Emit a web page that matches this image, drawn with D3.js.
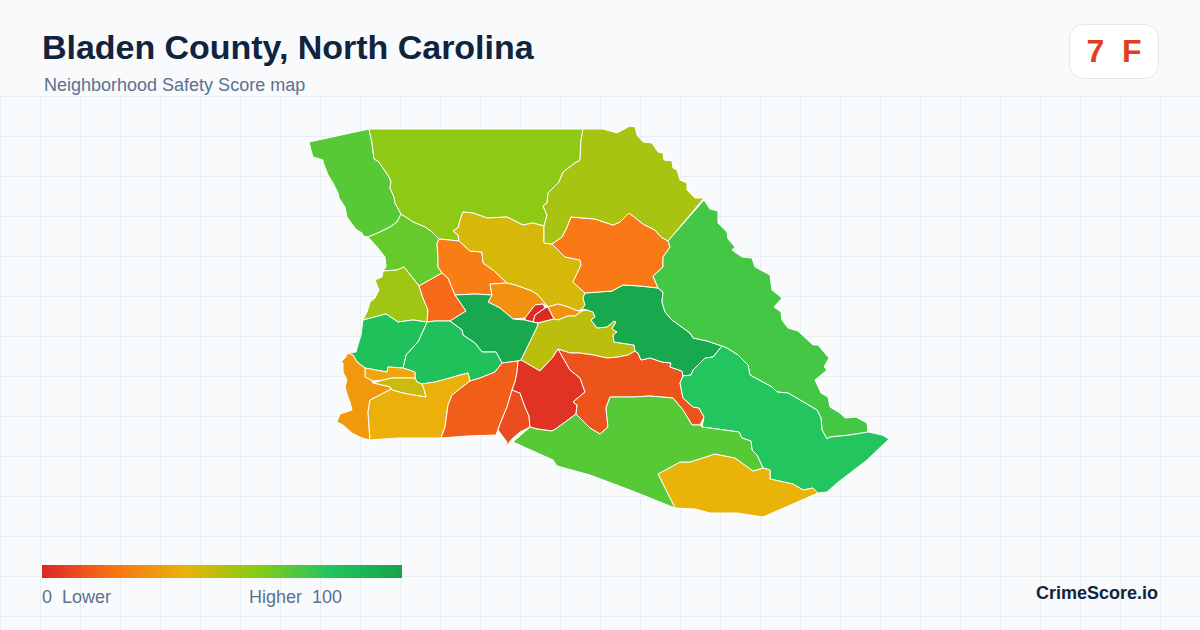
<!DOCTYPE html>
<html><head><meta charset="utf-8">
<script src="https://cdn.jsdelivr.net/npm/d3@7"></script>
<style>html,body{margin:0;padding:0;background:#f8fafc;overflow:hidden}svg{display:block}text{font-family:"Liberation Sans",Arial,sans-serif}</style>
</head><body><svg id="c" width="1200" height="630"></svg>
<script>
const title="Bladen County, North Carolina";
const subtitle="Neighborhood Safety Score map";
const badge="7  F";
const brand="CrimeScore.io";
const legendLow="0  Lower";
const legendHigh="Higher  100";
const scoreStops=[0,20,40,60,80,100];
const scoreColors=["#dc2626","#f97316","#eab308","#84cc16","#22c55e","#16a34a"];
const regionScores=[69,58,66,55,17.5,23,44,29,1,1,30,49,97,83,83,36,46,32,39,14.5,10.5,3.5,12,97,22,53,73,80,40,69];
// outlines in map units
const regionRings=[
[[309,142],[369,129],[372,143],[374,159],[378,161],[383,168],[389,177],[391,182],[390,188],[394,197],[395,203],[401,214],[397,222],[390,227],[380,232],[368,237],[363,236],[362,233],[357,230],[355,228],[347,217],[345,207],[339,198],[338,193],[333,183],[328,175],[323,162],[323,160],[313,157],[311,150]],
[[369,129],[583,129],[581,140],[580,160],[575,163],[563,172],[559,182],[548,193],[547,203],[543,206],[547,215],[544,226],[533,223],[523,225],[507,217],[487,218],[473,213],[463,212],[460,220],[458,228],[453,231],[458,235],[459,241],[439,239],[432,232],[425,227],[413,222],[401,214],[395,203],[394,197],[390,188],[391,182],[389,177],[383,168],[378,161],[374,159],[372,143]],
[[401,214],[413,222],[425,227],[432,232],[439,239],[437,244],[438,257],[438,267],[442,273],[419,286],[412,277],[404,267],[397,270],[383,271],[386,267],[385,257],[378,248],[368,237],[380,232],[390,227],[397,222]],
[[383,271],[397,270],[404,267],[412,277],[419,286],[423,298],[428,310],[427,322],[413,320],[398,322],[386,314],[363,320],[367,312],[370,302],[375,298],[379,290],[377,285],[375,280],[382,277]],
[[419,286],[442,273],[448,278],[455,295],[466,311],[450,321],[435,321],[427,322],[428,310],[423,298]],
[[439,239],[459,241],[470,251],[482,252],[483,263],[493,270],[507,283],[490,284],[492,295],[475,294],[455,295],[448,278],[442,273],[438,267],[438,257],[437,244]],
[[544,226],[544,243],[552,244],[565,257],[580,260],[581,265],[573,282],[585,293],[583,298],[585,305],[582,309],[578,311],[568,307],[558,304],[548,307],[538,295],[532,291],[515,285],[507,283],[493,270],[483,263],[482,252],[470,251],[459,241],[458,235],[453,231],[458,228],[460,220],[463,212],[473,213],[487,218],[507,217],[523,225],[533,223]],
[[507,283],[515,285],[532,291],[538,295],[548,307],[543,304],[535,305],[525,318],[513,319],[500,308],[488,302],[492,295],[490,284]],
[[525,318],[535,305],[543,304],[545,308],[535,315],[533,322],[525,320]],
[[545,308],[548,307],[554,319],[538,323],[533,322],[535,315]],
[[548,307],[558,304],[568,307],[578,311],[582,311],[575,316],[568,316],[558,320],[554,319]],
[[538,323],[554,319],[558,320],[568,316],[575,316],[582,311],[587,310],[593,312],[595,317],[591,320],[597,328],[607,327],[614,321],[616,322],[612,329],[617,332],[613,335],[614,342],[634,345],[635,351],[628,355],[618,357],[607,358],[593,355],[580,353],[570,353],[558,349],[553,357],[540,371],[521,360],[537,327]],
[[455,295],[475,294],[492,295],[488,302],[500,308],[513,319],[525,320],[533,322],[538,323],[537,327],[521,360],[518,361],[502,363],[496,352],[482,352],[475,343],[463,335],[462,330],[450,321],[466,311]],
[[427,322],[435,321],[450,321],[462,330],[463,335],[475,343],[482,352],[496,352],[502,363],[495,372],[480,378],[470,381],[468,373],[460,375],[450,378],[435,382],[422,384],[417,382],[415,378],[415,372],[403,368],[406,355],[415,345],[418,342]],
[[363,320],[386,314],[398,322],[413,320],[427,322],[418,342],[415,345],[406,355],[403,368],[388,367],[387,372],[365,368],[357,362],[353,355],[348,353],[356,352],[358,345],[361,335]],
[[365,368],[387,372],[388,367],[403,368],[415,372],[415,378],[402,378],[392,378],[383,380],[373,381],[371,380],[365,377]],
[[373,383],[383,380],[392,378],[402,378],[415,378],[417,382],[422,384],[424,389],[426,397],[413,395],[403,393],[392,390],[390,387]],
[[348,353],[353,355],[357,362],[365,368],[365,377],[371,380],[373,383],[390,387],[391,389],[380,395],[370,400],[368,412],[370,440],[362,438],[352,433],[343,425],[337,422],[340,414],[352,410],[350,402],[348,397],[345,387],[347,380],[343,372],[343,363],[341,362],[345,358]],
[[370,400],[380,395],[391,389],[392,390],[403,393],[413,395],[426,397],[424,389],[422,384],[435,382],[450,378],[460,375],[468,373],[470,381],[452,395],[448,405],[445,427],[441,438],[418,438],[398,438],[370,440],[368,412]],
[[502,363],[518,361],[517,372],[515,382],[512,390],[507,407],[500,424],[496,435],[467,436],[441,438],[445,427],[448,405],[452,395],[470,381],[480,378],[495,372]],
[[512,390],[520,393],[525,407],[529,416],[530,427],[520,432],[513,438],[505,447],[507,442],[498,430],[500,424],[507,407]],
[[521,360],[540,371],[553,357],[558,349],[570,370],[580,378],[585,392],[573,402],[577,405],[576,414],[557,428],[552,431],[537,429],[530,427],[529,416],[525,407],[520,393],[512,390],[515,382],[517,372],[518,361]],
[[558,349],[570,353],[580,353],[593,355],[607,358],[618,357],[628,355],[635,351],[638,353],[641,360],[650,358],[662,362],[671,363],[670,367],[682,371],[683,376],[680,383],[683,398],[693,407],[699,408],[704,417],[700,425],[692,425],[683,410],[673,398],[650,396],[633,397],[610,397],[606,408],[608,427],[600,434],[590,428],[576,414],[577,405],[573,402],[585,392],[580,378],[570,370]],
[[585,293],[612,291],[623,285],[640,286],[658,288],[663,292],[662,302],[665,312],[672,320],[690,333],[693,338],[707,341],[722,346],[713,357],[705,358],[693,370],[691,375],[683,376],[682,371],[670,367],[671,363],[662,362],[650,358],[641,360],[638,353],[635,351],[634,345],[614,342],[613,335],[617,332],[612,329],[616,322],[614,321],[607,327],[597,328],[591,320],[595,317],[593,312],[587,310],[582,309],[585,305],[583,298]],
[[552,244],[562,237],[567,227],[571,217],[595,219],[613,225],[620,222],[629,213],[643,224],[655,230],[661,237],[668,241],[670,247],[663,257],[663,267],[653,276],[658,288],[640,286],[623,285],[612,291],[585,293],[573,282],[581,265],[580,260],[565,257]],
[[583,129],[603,129],[617,133],[630,126],[635,127],[637,135],[643,142],[652,143],[658,152],[663,153],[664,160],[672,161],[673,168],[677,170],[680,180],[687,183],[687,190],[695,198],[704,198],[668,241],[661,237],[655,230],[643,224],[629,213],[620,222],[613,225],[595,219],[571,217],[567,227],[562,237],[552,244],[544,243],[544,226],[547,215],[543,206],[547,203],[548,193],[559,182],[563,172],[575,163],[580,160],[581,140]],
[[704,200],[710,209],[718,211],[718,223],[727,232],[728,239],[735,247],[732,250],[742,257],[752,258],[755,267],[770,275],[772,290],[782,298],[774,307],[781,312],[782,320],[788,328],[798,331],[813,345],[818,345],[829,358],[824,367],[827,370],[815,380],[821,393],[828,397],[830,407],[840,413],[845,418],[856,417],[867,423],[868,432],[850,435],[830,437],[827,439],[822,430],[821,418],[817,410],[788,393],[777,392],[772,387],[750,375],[748,365],[738,355],[727,348],[722,346],[707,341],[693,338],[690,333],[672,320],[665,312],[662,302],[663,292],[658,288],[653,276],[663,267],[663,257],[670,247],[668,241]],
[[722,346],[727,348],[738,355],[748,365],[750,375],[772,387],[777,392],[788,393],[817,410],[821,418],[822,430],[827,439],[830,437],[850,435],[868,432],[882,435],[889,439],[867,460],[837,483],[827,492],[818,493],[813,488],[803,490],[793,484],[770,479],[770,470],[763,468],[757,455],[752,450],[751,441],[742,438],[739,432],[702,427],[704,417],[699,408],[693,407],[683,398],[680,383],[683,376],[691,375],[693,370],[705,358],[713,357]],
[[658,474],[680,462],[690,462],[715,454],[735,458],[753,471],[763,468],[770,470],[770,479],[793,484],[803,490],[813,488],[818,493],[763,517],[737,513],[710,513],[695,509],[675,508]],
[[513,442],[530,427],[537,429],[552,431],[557,428],[576,414],[590,428],[600,434],[608,427],[606,408],[610,397],[633,397],[650,396],[673,398],[683,410],[692,425],[700,425],[702,427],[739,432],[742,438],[751,441],[752,450],[757,455],[763,468],[753,471],[735,458],[715,454],[690,462],[680,462],[658,474],[675,508],[630,490],[590,475],[557,466],[553,460]]
];

const svg=d3.select("#c");
const W=1200,H=630;
svg.append("rect").attr("width",W).attr("height",H).attr("fill","#f8fafc");
const gridX=d3.range(0,W,40), gridY=d3.range(96,H,40);
const grid=svg.append("g").attr("stroke","#e8eff3").attr("stroke-width",1);
grid.selectAll("line.v").data(gridX).join("line").attr("class","v")
  .attr("x1",d=>d+.5).attr("x2",d=>d+.5).attr("y1",96).attr("y2",H);
grid.selectAll("line.h").data(gridY).join("line").attr("class","h")
  .attr("y1",d=>d+.5).attr("y2",d=>d+.5).attr("x1",0).attr("x2",W);

const color=d3.scaleLinear().domain(scoreStops).range(scoreColors);
const features=regionRings.map((r,i)=>({type:"Feature",properties:{score:regionScores[i]},
  geometry:{type:"Polygon",coordinates:[r.concat([r[0]])]}}));
const path=d3.geoPath(d3.geoIdentity());
svg.append("g").selectAll("path").data(features).join("path")
  .attr("d",path).attr("fill",d=>color(d.properties.score))
  .attr("stroke","#ffffff").attr("stroke-width",1).attr("stroke-linejoin","round");

svg.append("text").attr("x",42).attr("y",59).attr("font-size",34).attr("letter-spacing",-.03).attr("font-weight",700).attr("fill","#10243e").text(title);
svg.append("text").attr("x",44).attr("y",91).attr("font-size",18).attr("fill","#5b7190").attr("id","st").text(subtitle);
svg.append("rect").attr("x",1069.5).attr("y",24.5).attr("width",89).attr("height",54).attr("rx",14)
  .attr("fill","#ffffff").attr("stroke","#e2e8f0");
svg.append("text").attr("x",1114).attr("y",62).attr("text-anchor","middle").attr("font-size",32).attr("font-weight",700)
  .attr("fill","#e03e1e").style("white-space","pre").text(badge);

const defs=svg.append("defs");
const grad=defs.append("linearGradient").attr("id","lg");
grad.selectAll("stop").data(scoreStops).join("stop")
  .attr("offset",d=>d+"%").attr("stop-color",d=>color(d));
const legendScale=d3.scaleLinear().domain([0,100]).range([42,402]);
svg.append("rect").attr("x",legendScale(0)).attr("y",565).attr("width",legendScale(100)-legendScale(0)).attr("height",13).attr("fill","url(#lg)");
svg.append("text").attr("x",42).attr("y",603).attr("font-size",18).attr("fill","#5b7190").style("white-space","pre").text(legendLow);
svg.append("text").attr("x",249).attr("y",603).attr("font-size",18).attr("fill","#5b7190").style("white-space","pre").text(legendHigh);
svg.append("text").attr("x",1158).attr("y",599).attr("text-anchor","end").attr("font-size",18).attr("font-weight",700).attr("fill","#10243e").text(brand);
</script></body></html>
